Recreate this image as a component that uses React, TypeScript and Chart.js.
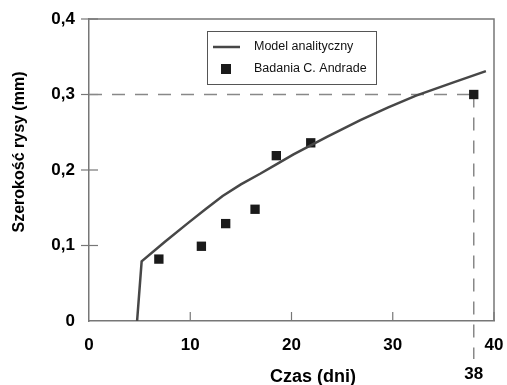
import React, { useEffect, useRef } from "react";
import { Chart, registerables } from "chart.js";

Chart.register(...registerables);

// Model curve
const curveX = [4.75, 5.2, 7.5, 9.8, 11.5, 13.2, 15, 16.9, 18.5, 20.2, 23.5, 26.8, 29.5, 32.3, 36, 39.2];
const curveY = [0, 0.079, 0.105, 0.13, 0.148, 0.1655, 0.181, 0.195, 0.2075, 0.2206, 0.244, 0.266, 0.2825, 0.2985, 0.316, 0.331];

// Measurements
const measX = [6.9, 11.1, 13.5, 16.4, 18.5, 21.9, 38];
const measY = [0.082, 0.099, 0.129, 0.148, 0.219, 0.236, 0.3];

const seriesNames = ["Model analityczny", "Badania C. Andrade"];
const xTitle = "Czas (dni)";
const yTitle = "Szerokość rysy (mm)";
const xTickValues = [0, 10, 20, 30, 40];
const yTickValues = [0, 0.1, 0.2, 0.3, 0.4];
const markX = 38;
const markY = 0.3;
const markLabel = "38";

const FONT = "'Liberation Sans', Arial, sans-serif";
const AXIS = "#777";

export default function App() {
  const ref = useRef<HTMLCanvasElement | null>(null);

  useEffect(() => {
    if (!ref.current) return;
    const decor = {
      id: "decor",
      beforeDatasetsDraw(chart: any) {
        const ctx = chart.ctx;
        const x = chart.scales.x;
        const y = chart.scales.y;
        const a = chart.chartArea;
        ctx.save();
        // frame top/right
        ctx.strokeStyle = AXIS;
        ctx.lineWidth = 1.5;
        ctx.beginPath();
        ctx.moveTo(a.left, a.top);
        ctx.lineTo(a.right, a.top);
        ctx.lineTo(a.right, a.bottom);
        ctx.stroke();
        // y ticks (crossing)
        ctx.lineWidth = 1.2;
        yTickValues.forEach((v) => {
          if (v === 0) return;
          const py = y.getPixelForValue(v);
          ctx.beginPath();
          ctx.moveTo(a.left - 8, py);
          ctx.lineTo(a.left + 9, py);
          ctx.stroke();
        });
        // x ticks (inside)
        xTickValues.forEach((v) => {
          if (v === 0) return;
          const px = x.getPixelForValue(v);
          ctx.beginPath();
          ctx.moveTo(px, a.bottom - 9);
          ctx.lineTo(px, a.bottom);
          ctx.stroke();
        });
        // dashed guides
        const mx = x.getPixelForValue(markX);
        const my = y.getPixelForValue(markY);
        ctx.strokeStyle = "#888";
        ctx.lineWidth = 1.5;
        ctx.setLineDash([13, 10]);
        ctx.beginPath();
        ctx.moveTo(a.left, my);
        ctx.lineTo(mx, my);
        ctx.stroke();
        ctx.beginPath();
        ctx.moveTo(mx, my);
        ctx.lineTo(mx, a.bottom + 38);
        ctx.stroke();
        ctx.setLineDash([]);
        ctx.restore();
      },
      afterDraw(chart: any) {
        const ctx = chart.ctx;
        const x = chart.scales.x;
        ctx.save();
        // titles
        ctx.fillStyle = "#000";
        ctx.textAlign = "center";
        ctx.textBaseline = "middle";
        ctx.font = `bold 18px ${FONT}`;
        ctx.fillText(xTitle, 313, 377);
        ctx.font = `bold 17px ${FONT}`;
        ctx.fillText(markLabel, x.getPixelForValue(markX), 374);
        ctx.save();
        ctx.translate(20, 152);
        ctx.rotate(-Math.PI / 2);
        ctx.font = `bold 16px ${FONT}`;
        ctx.fillText(yTitle, 0, 0);
        ctx.restore();
        // legend
        ctx.fillStyle = "#fff";
        ctx.fillRect(207, 31, 170, 54);
        ctx.strokeStyle = "#555";
        ctx.lineWidth = 1;
        ctx.strokeRect(207.5, 31.5, 169, 53);
        ctx.strokeStyle = "#474747";
        ctx.lineWidth = 2.5;
        ctx.beginPath();
        ctx.moveTo(213, 47);
        ctx.lineTo(240, 47);
        ctx.stroke();
        ctx.fillStyle = "#1a1a1a";
        ctx.fillRect(221, 64, 10, 10);
        ctx.fillStyle = "#111";
        ctx.textAlign = "left";
        ctx.font = `12.5px ${FONT}`;
        ctx.fillText(seriesNames[0], 254, 47);
        ctx.fillText(seriesNames[1], 254, 69);
        ctx.restore();
      },
    };

    const chart = new Chart(ref.current, {
      type: "scatter",
      data: {
        datasets: [
          {
            type: "line",
            label: seriesNames[0],
            data: curveX.map((v, i) => ({ x: v, y: curveY[i] })),
            borderColor: "#474747",
            borderWidth: 2.5,
            pointRadius: 0,
            tension: 0,
            fill: false,
          },
          {
            type: "scatter",
            label: seriesNames[1],
            data: measX.map((v, i) => ({ x: v, y: measY[i] })),
            pointStyle: "rect",
            pointRadius: 6.6,
            backgroundColor: "#1a1a1a",
            borderColor: "#1a1a1a",
            borderWidth: 0,
          },
        ],
      },
      options: {
        responsive: true,
        maintainAspectRatio: false,
        animation: false,
        layout: { padding: { left: 0, top: 19, right: 13, bottom: 0 } },
        plugins: {
          legend: { display: false },
          tooltip: { enabled: false },
        },
        scales: {
          x: {
            type: "linear",
            position: "bottom",
            min: 0,
            max: 40,
            afterFit: (s: any) => {
              s.height = 64;
              s.paddingLeft = 0;
              s.paddingRight = 0;
            },
            afterBuildTicks: (s: any) => {
              s.ticks = xTickValues.map((v) => ({ value: v }));
            },
            ticks: {
              font: { family: FONT, size: 17, weight: "bold" },
              color: "#000",
              padding: 14,
              maxRotation: 0,
            },
            grid: { display: false, drawTicks: false },
            border: { display: true, color: AXIS, width: 1.5 },
          },
          y: {
            type: "linear",
            min: 0,
            max: 0.4,
            afterFit: (s: any) => {
              s.width = 89;
              s.paddingTop = 0;
              s.paddingBottom = 0;
            },
            afterBuildTicks: (s: any) => {
              s.ticks = yTickValues.map((v) => ({ value: v }));
            },
            ticks: {
              font: { family: FONT, size: 17, weight: "bold" },
              color: "#000",
              padding: 14,
              callback: (v: any) => (Number(v) === 0 ? "0" : Number(v).toFixed(1).replace(".", ",")),
            },
            grid: { display: false, drawTicks: false },
            border: { display: true, color: AXIS, width: 1.5 },
          },
        },
      },
      plugins: [decor],
    } as any);
    return () => chart.destroy();
  }, []);

  return (
    <div style={{ position: "fixed", left: 0, top: 0, width: 507, height: 385, background: "#fff" }}>
      <canvas ref={ref} />
    </div>
  );
}
